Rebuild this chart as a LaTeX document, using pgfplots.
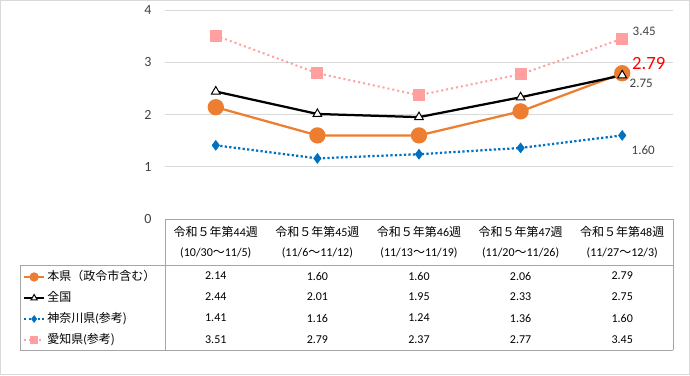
\documentclass[border=0pt]{standalone}
\usepackage{pgfplots}
\pgfplotsset{compat=1.18}
\usepackage{fontspec}
\setmainfont{Carlito}
\newfontfamily\cjk{Noto Sans CJK JP}
\definecolor{cOrange}{HTML}{ED7D31}
\definecolor{cBlue}{HTML}{0070C0}
\definecolor{cPink}{HTML}{FF9F9F}
\definecolor{cGrid}{HTML}{D9D9D9}
\definecolor{cLine}{HTML}{A6A6A6}
\definecolor{cText}{HTML}{404040}
\begin{document}
\begin{tikzpicture}[x=1pt,y=1pt]
\useasboundingbox (0,0) rectangle (690,375);
\draw[cGrid, line width=1pt] (0.5,0.5) rectangle (689.5,374.5);
\begin{axis}[
  at={(165pt,156pt)}, anchor=south west,
  scale only axis, width=508pt, height=209pt,
  xmin=-0.5, xmax=4.5, ymin=0, ymax=4,
  xtick=\empty,
  ytick={1,2,3,4}, extra y ticks={0}, extra y tick labels={0},
  extra y tick style={major grid style={cLine, line width=1pt}},
  ymajorgrids, major grid style={cGrid, line width=1pt},
  axis line style={draw=none},
  major tick length=0pt,
  tick label style={font=\fontsize{14}{16}\selectfont, text=cText},
  yticklabel style={xshift=-10pt},
  /pgf/number format/assume math mode=true,
  clip=false,
  legend cell align=left,
  legend style={at={(axis description cs:-0.2795,-0.2273)}, anchor=north west,
    draw=none, fill=none, inner sep=0pt, outer sep=0pt, row sep=0pt, column sep=0pt,
    font=\fontsize{12}{14}\selectfont,
    nodes={inner xsep=2pt, inner ysep=4pt, text height=10pt, text depth=3pt}},
  legend image code/.code={\draw[mark repeat=2,mark phase=2,#1] plot coordinates {(0pt,0pt) (10pt,0pt) (20pt,0pt)};},
  legend image post style={mark size=3.5pt},
]
\addplot[cOrange, line width=2.25pt, mark=*, mark size=7pt, mark options={solid, fill=cOrange, draw=cOrange}]
  coordinates {(0,2.14)(1,1.60)(2,1.60)(3,2.06)(4,2.79)};
\addlegendentry{{\cjk 本県（政令市含む）}}
\addplot[black, line width=2.25pt, mark=triangle*, mark size=5pt, mark options={solid, fill=white, draw=black, line width=1pt}]
  coordinates {(0,2.44)(1,2.01)(2,1.95)(3,2.33)(4,2.75)};
\addlegendentry{{\cjk 全国}}
\addplot[cBlue, line width=2.25pt, dash pattern=on 2.25pt off 2.25pt, mark=diamond*, mark size=5pt, mark options={solid, fill=cBlue, draw=cBlue, line width=0.5pt}]
  coordinates {(0,1.41)(1,1.16)(2,1.24)(3,1.36)(4,1.60)};
\addlegendentry{{\cjk 神奈川県}(\cjk 参考)}
\addplot[cPink, line width=2pt, dash pattern=on 2pt off 3pt, mark=square*, mark size=5.5pt, mark options={solid, fill=cPink, draw=cPink, line width=0pt}]
  coordinates {(0,3.51)(1,2.79)(2,2.37)(3,2.77)(4,3.45)};
\addlegendentry{{\cjk 愛知県}(\cjk 参考)}
\node[text=cText, font=\fontsize{13}{15}\selectfont, xshift=22pt, yshift=7pt] at (axis cs:4,3.45) {3.45};
\node[text=red, font=\fontsize{18.7}{20}\selectfont, xshift=26.5pt, yshift=10pt] at (axis cs:4,2.79) {2.79};
\node[text=cText, font=\fontsize{13}{15}\selectfont, xshift=19pt, yshift=-7.7pt] at (axis cs:4,2.75) {2.75};
\node[text=cText, font=\fontsize{13}{15}\selectfont, xshift=21pt, yshift=-15pt] at (axis cs:4,1.60) {1.60};
\end{axis}
% table frame
\draw[cLine, line width=1pt] (20,110) -- (673,110);
\draw[cLine, line width=1pt] (20,25) -- (673,25);
\draw[cLine, line width=1pt] (20,25) -- (20,110);
\draw[cLine, line width=1pt] (165,25) -- (165,156);
\draw[cLine, line width=1pt] (673,25) -- (673,156);
% header
\begin{scope}[every node/.style={font=\fontsize{12}{14}\selectfont, text=black, inner sep=0pt}]
\node at (215.8,143) {{\cjk 令和５年第}44{\cjk 週}};
\node at (317.4,143) {{\cjk 令和５年第}45{\cjk 週}};
\node at (419.0,143) {{\cjk 令和５年第}46{\cjk 週}};
\node at (520.6,143) {{\cjk 令和５年第}47{\cjk 週}};
\node at (622.2,143) {{\cjk 令和５年第}48{\cjk 週}};
\node at (215.8,122) {(10/30{\cjk ～}11/5)};
\node at (317.4,122) {(11/6{\cjk ～}11/12)};
\node at (419.0,122) {(11/13{\cjk ～}11/19)};
\node at (520.6,122) {(11/20{\cjk ～}11/26)};
\node at (622.2,122) {(11/27{\cjk ～}12/3)};
% rows
\node at (215.8,99) {2.14}; \node at (317.4,99) {1.60}; \node at (419.0,99) {1.60}; \node at (520.6,99) {2.06}; \node at (622.2,99) {2.79};
\node at (215.8,78) {2.44}; \node at (317.4,78) {2.01}; \node at (419.0,78) {1.95}; \node at (520.6,78) {2.33}; \node at (622.2,78) {2.75};
\node at (215.8,57) {1.41}; \node at (317.4,57) {1.16}; \node at (419.0,57) {1.24}; \node at (520.6,57) {1.36}; \node at (622.2,57) {1.60};
\node at (215.8,35.5) {3.51}; \node at (317.4,35.5) {2.79}; \node at (419.0,35.5) {2.37}; \node at (520.6,35.5) {2.77}; \node at (622.2,35.5) {3.45};
\end{scope}
\end{tikzpicture}
\end{document}
